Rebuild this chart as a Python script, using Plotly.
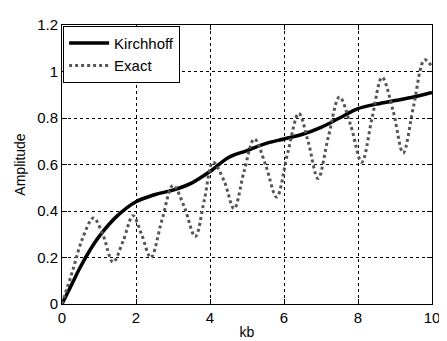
import plotly.graph_objects as go

# Data
kirch_kb = [0, 0.25, 0.5, 0.75, 1, 1.5, 2, 2.5, 3, 3.5, 4, 4.5, 5, 5.5, 6, 6.5, 7, 7.5, 8, 8.5, 9, 9.5, 10]
kirch_amp = [0, 0.08, 0.16, 0.23, 0.29, 0.38, 0.44, 0.47, 0.49, 0.52, 0.57, 0.63, 0.66, 0.69, 0.71, 0.73, 0.76, 0.80, 0.84, 0.86, 0.875, 0.89, 0.91]

exact_kb = [0, 0.3, 0.55, 0.85, 1.1, 1.38, 1.65, 1.92, 2.15, 2.4, 2.7, 3.0, 3.3, 3.6, 3.85,
            4.08, 4.38, 4.65, 4.92, 5.2, 5.5, 5.8, 6.1, 6.4, 6.65, 6.92, 7.2, 7.5, 7.8,
            8.1, 8.38, 8.65, 8.95, 9.22, 9.5, 9.8, 10.0]
exact_amp = [0, 0.15, 0.28, 0.37, 0.30, 0.18, 0.27, 0.38, 0.30, 0.20, 0.36, 0.51, 0.42, 0.29, 0.45,
             0.61, 0.53, 0.41, 0.57, 0.71, 0.60, 0.46, 0.65, 0.82, 0.70, 0.54, 0.72, 0.89, 0.77,
             0.61, 0.80, 0.975, 0.83, 0.65, 0.85, 1.05, 1.02]

x_ticks = [0, 2, 4, 6, 8, 10]
y_ticks = [0, 0.2, 0.4, 0.6, 0.8, 1, 1.2]

FONT = "Arial, Liberation Sans, sans-serif"

fig = go.Figure()
fig.add_trace(go.Scatter(x=kirch_kb, y=kirch_amp, mode="lines", name="Kirchhoff",
                         line=dict(color="black", width=3.5, shape="spline")))
fig.add_trace(go.Scatter(x=exact_kb, y=exact_amp, mode="lines", name="Exact",
                         line=dict(color="#555555", width=3, dash="dot", shape="spline")))

axis_common = dict(showline=True, linecolor="black", linewidth=1, mirror="ticks",
                   ticks="inside", ticklen=5, tickcolor="black",
                   showgrid=True, gridcolor="black", griddash="dot", gridwidth=1,
                   zeroline=False, ticklabeloverflow="allow",
                   tickfont=dict(family=FONT, size=15, color="black"))

fig.update_layout(
    width=447, height=341,
    margin=dict(l=54, r=23, t=8, b=45),
    paper_bgcolor="white", plot_bgcolor="white",
    font=dict(family=FONT, color="black"),
    xaxis=dict(range=[0, 10], tickvals=x_ticks, **axis_common,
               title=dict(text="kb", font=dict(family=FONT, size=14), standoff=2)),
    yaxis=dict(range=[0, 1.2], tickvals=y_ticks, **axis_common,
               title=dict(text="Amplitude", font=dict(family=FONT, size=14), standoff=8)),
    legend=dict(x=0.003, y=0.997, xanchor="left", yanchor="top",
                bgcolor="white", bordercolor="black", borderwidth=1,
                font=dict(family=FONT, size=15, color="black"),
                tracegroupgap=0, itemwidth=40),
    showlegend=True,
)

fig.write_html("out.html")
